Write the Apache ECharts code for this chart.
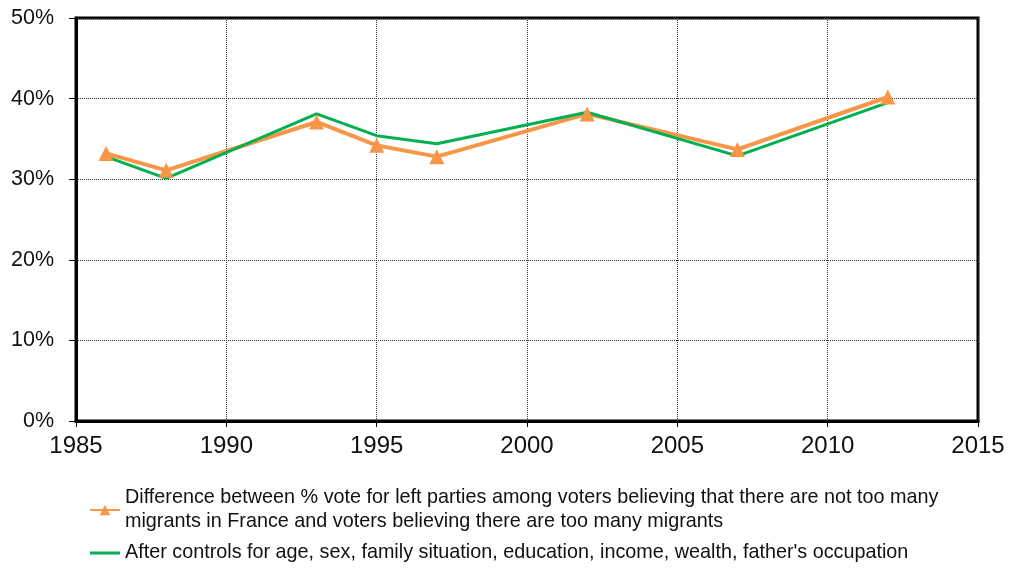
<!DOCTYPE html>
<html>
<head>
<meta charset="utf-8">
<script src="https://cdn.jsdelivr.net/npm/echarts@6/dist/echarts.min.js"></script>
<style>
html,body{margin:0;padding:0;background:#fff;}
#c{width:1011px;height:568px;}
</style>
</head>
<body>
<div id="c"></div>
<script>
var years = [1986, 1988, 1993, 1995, 1997, 2002, 2007, 2012];
var diffRaw = [33.2, 31.1, 37.1, 34.2, 32.8, 38.1, 33.7, 40.2];
var diffControls = [32.8, 30.1, 38.1, 35.4, 34.4, 38.3, 32.9, 39.5];
var nameRaw = "Difference between % vote for left parties among voters believing that there are not too many\nmigrants in France and voters believing there are too many migrants";
var nameCtrl = "After controls for age, sex, family situation, education, income, wealth, father's occupation";

function pairs(xs, ys){ return xs.map(function(x,i){ return [x, ys[i]]; }); }

var FONT = 'Liberation Sans, Arial, sans-serif';
var chart = echarts.init(document.getElementById('c'), null, {renderer:'canvas'});
chart.setOption({
  animation:false,
  backgroundColor:'#fff',
  textStyle:{fontFamily:FONT},
  grid:{left:76, right:33, top:18, bottom:147, show:true, borderColor:'#000', borderWidth:3, backgroundColor:'transparent'},
  legend:{
    orient:'vertical', left:84, top:481, itemGap:7,
    itemWidth:30, itemHeight:13,
    textStyle:{fontSize:19.8, color:'#111', lineHeight:24, fontFamily:FONT},
    data:[
      {name:nameRaw},
      {name:nameCtrl, icon:'path://M0,0 L30,0 L30,3 L0,3 Z'}
    ]
  },
  xAxis:{
    type:'value', min:1985, max:2015, interval:5,
    axisLine:{show:true, lineStyle:{color:'#000', width:3}},
    axisTick:{show:true, length:6, lineStyle:{color:'#000', width:1}},
    axisLabel:{fontSize:24, color:'#111', margin:13, fontFamily:FONT, formatter:function(v){ return String(v); }},
    splitLine:{show:true, lineStyle:{color:'#333', type:'dotted', width:1}}
  },
  yAxis:{
    type:'value', min:0, max:50, interval:10,
    axisLine:{show:true, lineStyle:{color:'#000', width:3}},
    axisTick:{show:true, length:7, lineStyle:{color:'#000', width:1}},
    axisLabel:{fontSize:21.5, color:'#111', margin:22, formatter:'{value}%', fontFamily:FONT},
    splitLine:{show:true, lineStyle:{color:'#333', type:'dotted', width:1}}
  },
  series:[
    {name:nameRaw, type:'line', data:pairs(years, diffRaw),
     symbol:'triangle', symbolSize:15, showAllSymbol:true,
     lineStyle:{color:'#F79646', width:4}, itemStyle:{color:'#F79646'}},
    {name:nameCtrl, type:'line', data:pairs(years, diffControls),
     symbol:'none',
     lineStyle:{color:'#00B050', width:3}, itemStyle:{color:'#00B050'}}
  ]
});
</script>
</body>
</html>
